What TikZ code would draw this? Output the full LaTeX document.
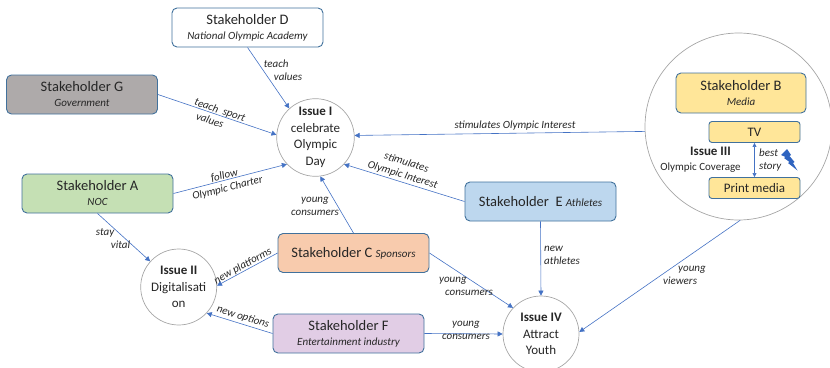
\documentclass[tikz,border=0pt]{standalone}
\usepackage{fontspec}
\setmainfont{Carlito}
\usetikzlibrary{arrows.meta,calc}
\definecolor{boxblue}{HTML}{41719C}
\definecolor{arrblue}{HTML}{4472C4}
\definecolor{cgray}{HTML}{A6A6A6}
\definecolor{txt}{HTML}{262626}
\definecolor{fillG}{HTML}{AEAAAA}
\definecolor{fillA}{HTML}{C5E0B4}
\definecolor{fillC}{HTML}{F8CBAD}
\definecolor{fillE}{HTML}{BDD7EE}
\definecolor{fillF}{HTML}{E1CDE5}
\definecolor{fillB}{HTML}{FFE699}
\definecolor{boltblue}{HTML}{2F64C0}
\newcommand\shtitle{\fontsize{14.5}{15}\selectfont}
\newcommand\shsub{\fontsize{11}{13}\selectfont\itshape}
\begin{document}
\begin{tikzpicture}[x=1pt,y=-1pt,
  box/.style={draw=boxblue, line width=0.9pt, rounded corners=5pt, minimum width=151pt, minimum height=39pt, align=center, inner sep=1pt, text=txt, font=\shtitle},
  smallbox/.style={draw=boxblue, line width=0.9pt, rounded corners=3pt, minimum width=91pt, minimum height=21pt, inner sep=1pt, fill=fillB, text=txt, font=\fontsize{13}{15}\selectfont},
  issue/.style={circle, draw=cgray, line width=0.7pt, minimum size=76pt, inner sep=0pt, align=center, text=txt, font=\fontsize{13}{16.5}\selectfont},
  conn/.style={draw=arrblue, line width=0.6pt, -{Triangle[length=5pt,width=5pt]}},
  lab/.style={font=\fontsize{11}{13}\selectfont\itshape, text=txt, inner sep=0pt, align=center}]
\useasboundingbox (0,0) rectangle (830,367);

% stakeholder boxes
\node[box, fill=white] (d) at (247.5,27.5) {Stakeholder D\\{\shsub National Olympic Academy}};
\node[box, fill=fillG] (g) at (82,94.5) {Stakeholder G\\{\shsub Government}};
\node[box, fill=fillA] (a) at (97.5,193.5) {Stakeholder A\\{\shsub NOC}};
\node[box, fill=fillC] (c) at (353.5,253) {Stakeholder C {\shsub Sponsors}};
\node[box, fill=fillE] (e) at (540.5,201.5) {Stakeholder\ \ E {\shsub Athletes}};
\node[box, fill=fillF] (f) at (348.5,333.5) {Stakeholder F\\{\shsub Entertainment industry}};

% issues
\node[issue] (i1) at (315.5,137.5) {\textbf{Issue I}\\celebrate\\Olympic\\Day};
\node[issue] (i2) at (178.7,287) {\textbf{Issue II}\\Digitalisati\\on};
\node[issue] (i4) at (541,334) {\textbf{Issue IV}\\Attract\\Youth};
\node[circle, draw=cgray, line width=0.7pt, minimum size=187pt, inner sep=0pt] (i3) at (738.5,126.5) {};

% inside issue III
\node[draw=boxblue, line width=0.9pt, rounded corners=5pt, minimum width=130pt, minimum height=40pt, align=center, inner sep=1pt, fill=fillB, text=txt, font=\shtitle] (b) at (741,93) {Stakeholder B\\{\shsub Media}};
\node[smallbox] (tv) at (754.5,132) {TV};
\node[smallbox] (pm) at (754.5,188) {Print media};
\node[align=center, text=txt, inner sep=0pt, font=\fontsize{11}{15}\selectfont] (i3t) at (700.5,159.5) {\hspace*{20pt}{\fontsize{13}{15}\selectfont\bfseries Issue III}\\Olympic Coverage};
\draw[draw=arrblue, line width=0.6pt, {Triangle[length=4pt,width=4pt]}-{Triangle[length=4pt,width=4pt]}] (tv.south) -- (pm.north);
\node[lab, align=left, anchor=west] (bs) at (759,160) {best\\story};
\fill[boltblue] (781,155) -- (787,149) -- (791,155) -- (789.5,156) -- (794.5,162) -- (793,163) -- (797.5,170.5) -- (788,163) -- (789.5,162) -- (784,158) -- (785.5,157) -- cycle;

% connectors to Issue I
\draw[conn] (d.south) -- (i1.132);
\draw[conn] (g.east) -- (i1.176);
\draw[conn] (a.east) -- (i1.223);
\draw[conn] (i3.183) -- (i1.3.5);
\draw[conn] (e.west) -- (i1.317);
\draw[conn] (c.north) -- (i1.277);
% connectors to Issue II
\draw[conn] (a.south) -- (i2.138);
\draw[conn] (c.west) -- (i2.2);
\draw[conn] (f.west) -- (i2.317);
% connectors to Issue IV
\draw[conn] (e.south) -- (i4.90);
\draw[conn] (c.east) -- (i4.137);
\draw[conn] (f.east) -- (i4.180);
\draw[conn] (i3.271) -- (i4.3);

% labels
\node[lab, align=left] (l1) at (283,70.5) {teach\\\hspace*{10pt}values};
\node[lab, align=left, rotate=-19] (l2) at (218,116) {teach\ \ sport\\\hspace*{6pt}values};
\node[lab, rotate=14] (l3) at (226,182) {follow\\Olympic Charter};
\node[lab] (l4) at (515,126) {stimulates Olympic Interest};
\node[lab, rotate=-17] (l5) at (404.5,169) {stimulates\\Olympic Interest};
\node[lab] (l6) at (315,206) {young\\consumers};
\node[lab, align=left] (l7) at (113,239) {stay\\\hspace*{15pt}vital};
\node[lab, rotate=29] (l8) at (243,266) {new platforms};
\node[lab, rotate=-17] (l9) at (243,317) {new options};
\node[lab, align=left, anchor=west] (l10) at (544,255.5) {new\\athletes};
\node[lab, align=left] (l11) at (466,286.5) {young\\\hspace*{6pt}consumers};
\node[lab] (l12) at (466,330.5) {young\\consumers};
\node[lab, align=left] (l13) at (684.5,275.5) {\hspace*{15pt}young\\viewers};
\end{tikzpicture}
\end{document}
